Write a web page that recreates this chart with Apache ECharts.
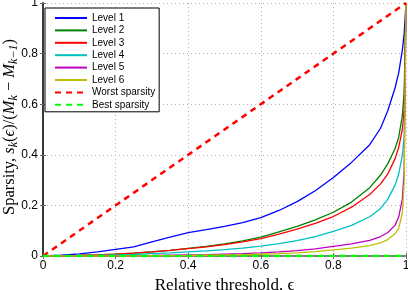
<!DOCTYPE html>
<html>
<head>
<meta charset="utf-8">
<script src="https://cdn.jsdelivr.net/npm/echarts@6/dist/echarts.min.js"></script>
<style>html,body{margin:0;padding:0;background:#fff}#c{width:408px;height:290px}</style>
</head>
<body>
<div id="c"></div>
<script>
var eps = [0,0.05,0.1,0.15,0.2,0.25,0.3,0.35,0.4,0.45,0.5,0.55,0.6,0.65,0.7,0.75,0.8,0.85,0.9,0.93,0.95,0.97,0.98,0.99,0.995,1];
var level1 = [0,0.003,0.008,0.016,0.026,0.036,0.056,0.075,0.092,0.104,0.117,0.132,0.152,0.18,0.215,0.258,0.31,0.37,0.44,0.505,0.575,0.665,0.725,0.815,0.88,1];
var level2 = [0,0.001,0.002,0.004,0.007,0.011,0.016,0.022,0.03,0.038,0.048,0.06,0.075,0.095,0.117,0.143,0.173,0.213,0.27,0.32,0.365,0.425,0.47,0.555,0.65,1];
var level3 = [0,0.001,0.002,0.004,0.007,0.011,0.016,0.022,0.029,0.036,0.045,0.056,0.069,0.086,0.106,0.129,0.156,0.193,0.243,0.285,0.325,0.385,0.43,0.5,0.58,1];
var level4 = [0,0.0005,0.001,0.002,0.004,0.006,0.009,0.012,0.016,0.02,0.025,0.031,0.039,0.049,0.061,0.077,0.097,0.121,0.155,0.188,0.225,0.28,0.325,0.4,0.47,1];
var level5 = [0,0,0.0002,0.0005,0.001,0.0015,0.002,0.003,0.004,0.005,0.007,0.009,0.012,0.016,0.021,0.028,0.038,0.048,0.062,0.077,0.093,0.122,0.155,0.225,0.34,1];
var level6 = [0,0,0,0,0.0003,0.0006,0.001,0.0015,0.002,0.003,0.004,0.005,0.007,0.009,0.012,0.017,0.024,0.031,0.041,0.052,0.065,0.088,0.11,0.17,0.29,1];
var worstX = [0,1], worstY = [0,1];
var bestX = [0,1], bestY = [0,0];
var tickVals = [0,0.2,0.4,0.6,0.8,1];
var names = ['Level 1','Level 2','Level 3','Level 4','Level 5','Level 6','Worst sparsity','Best sparsity'];
var colors = ['#0000ff','#008000','#ff0000','#00bfbf','#bf00bf','#bfbf00','#ff0000','#00ff00'];

function pairs(xs, ys){ return xs.map(function(x,i){ return [x, ys[i]]; }); }
var levels = [level1, level2, level3, level4, level5, level6];
var series = levels.map(function(ys, i){
  return {name: names[i], type:'line', data: pairs(eps, ys), symbol:'none', showSymbol:false,
    lineStyle:{color: colors[i], width:1.3}, itemStyle:{color: colors[i]}, animation:false};
});
series.push({name: names[6], type:'line', data: pairs(worstX, worstY), symbol:'none',
  lineStyle:{color: colors[6], width:2.5, type:[6,5]}, itemStyle:{color: colors[6]}, animation:false});
series.push({name: names[7], type:'line', data: pairs(bestX, bestY), symbol:'none',
  lineStyle:{color: colors[7], width:2.5, type:[6,5]}, itemStyle:{color: colors[7]}, animation:false});

var fmt = function(v){ return tickVals.indexOf(v) >= 0 ? String(v) : ''; };
var serif = 'Liberation Serif, DejaVu Serif, serif';
var chart = echarts.init(document.getElementById('c'), null, {renderer:'canvas'});
chart.setOption({
  animation:false,
  grid:{left:43, right:2, top:3, bottom:34, containLabel:false, outerBoundsMode:'none'},
  xAxis:[{type:'value', min:0, max:1, interval:0.2, position:'bottom',
    axisLine:{show:true, lineStyle:{color:'#808080', width:2}},
    axisTick:{show:true, inside:true, length:3, lineStyle:{color:'#666'}},
    axisLabel:{formatter:fmt, color:'#000', fontSize:12, fontFamily:'Liberation Sans, Arial', margin:4},
    splitLine:{show:true, lineStyle:{color:'#b4b4b4', type:[1,3], width:1}},
    name:'Relative threshold, ϵ', nameLocation:'middle', nameGap:14,
    nameTextStyle:{fontFamily:serif, fontSize:17, color:'#000'}
  },{type:'value', min:0, max:1, interval:0.2, position:'top',
    axisLine:{show:true, lineStyle:{color:'#808080', width:1.5}},
    axisTick:{show:true, inside:true, length:3, lineStyle:{color:'#666'}},
    axisLabel:{show:false}, splitLine:{show:false}}],
  yAxis:[{type:'value', min:0, max:1, interval:0.2, position:'left',
    axisLine:{show:true, lineStyle:{color:'#808080', width:2}},
    axisTick:{show:true, inside:true, length:3, lineStyle:{color:'#666'}},
    axisLabel:{formatter:fmt, color:'#000', fontSize:12, fontFamily:'Liberation Sans, Arial', margin:5},
    splitLine:{show:true, lineStyle:{color:'#b4b4b4', type:[1,3], width:1}}
  },{type:'value', min:0, max:1, interval:0.2, position:'right',
    axisLine:{show:true, lineStyle:{color:'#222', width:1.5}},
    axisTick:{show:true, inside:true, length:3, lineStyle:{color:'#666'}},
    axisLabel:{show:false}, splitLine:{show:false}}],
  legend:{show:true, orient:'vertical', left:45, top:8, data:names,
    itemWidth:32, itemHeight:10, itemGap:2.4, padding:[5,4,2,9],
    backgroundColor:'#fff', borderColor:'#000', borderWidth:1,
    itemStyle:{opacity:0},
    textStyle:{fontSize:10, fontFamily:'Liberation Sans, Arial', color:'#000'}},
  graphic:[{type:'text', x:10, y:127, rotation:Math.PI/2, z:10,
    style:{text:'{rm|Sparsity, }{it|s}{sub|k}{rm|(}{it|ϵ}{rm|)/(}{it|M}{sub|k}{rm| − }{it|M}{sub|k−1}{rm|)}',
      align:'center', verticalAlign:'middle',
      rich:{
        rm:{fontFamily:serif, fontSize:16.5, color:'#000', lineHeight:19},
        it:{fontFamily:serif, fontSize:16.5, fontStyle:'italic', color:'#000', lineHeight:19},
        sub:{fontFamily:serif, fontSize:12, fontStyle:'italic', color:'#000', padding:[8,0,0,0], lineHeight:12}
      }}}],
  series: series.map(function(s){ s.xAxisIndex=0; s.yAxisIndex=0; return s; })
});
</script>
</body>
</html>
